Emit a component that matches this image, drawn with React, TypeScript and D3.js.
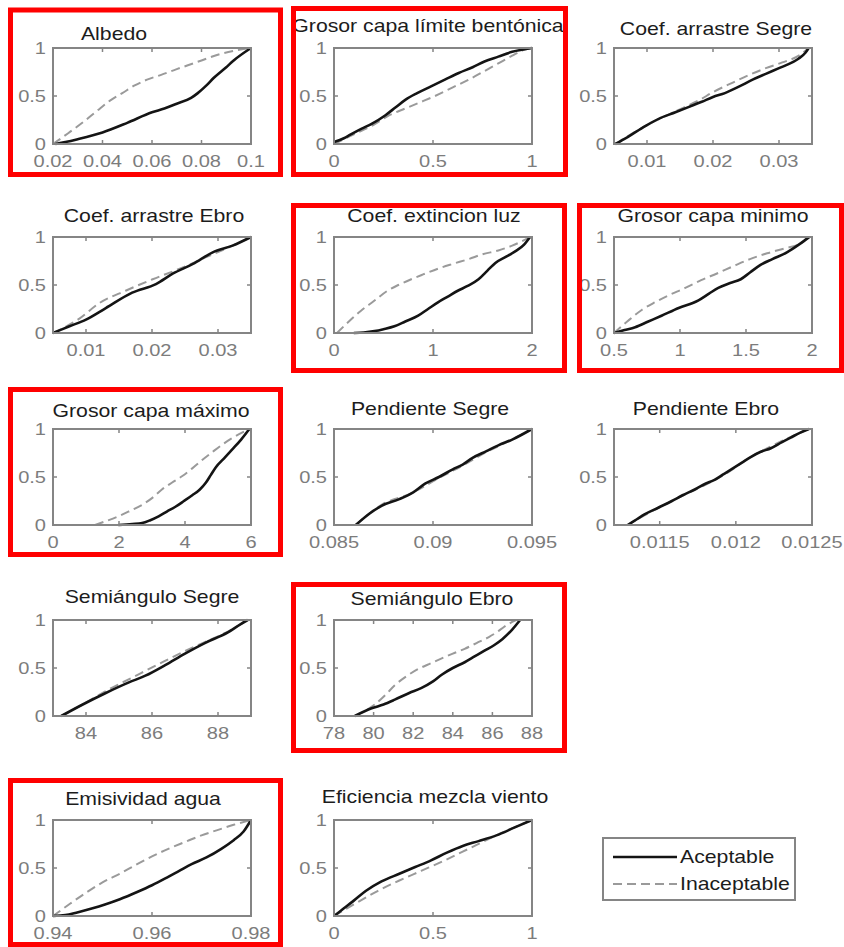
import React from "react";
import * as d3 from "d3";

type Pt = [number, number];

// ---------- DATA ----------
const titles = [
  "Albedo",
  "Grosor capa límite bentónica",
  "Coef. arrastre Segre",
  "Coef. arrastre Ebro",
  "Coef. extincion luz",
  "Grosor capa minimo",
  "Grosor capa máximo",
  "Pendiente Segre",
  "Pendiente Ebro",
  "Semiángulo Segre",
  "Semiángulo Ebro",
  "Emisividad agua",
  "Eficiencia mezcla viento",
];

const xDomains: Pt[] = [
  [0.02, 0.1], [0, 1], [0.005, 0.035], [0.005, 0.035], [0, 2], [0.5, 2], [0, 6],
  [0.085, 0.095], [0.0112, 0.0125], [83, 89], [78, 88], [0.94, 0.98], [0, 1],
];

const xTicks: number[][] = [
  [0.02, 0.04, 0.06, 0.08, 0.1], [0, 0.5, 1], [0.01, 0.02, 0.03], [0.01, 0.02, 0.03],
  [0, 1, 2], [0.5, 1, 1.5, 2], [0, 2, 4, 6], [0.085, 0.09, 0.095], [0.0115, 0.012, 0.0125],
  [84, 86, 88], [78, 80, 82, 84, 86, 88], [0.94, 0.96, 0.98], [0, 0.5, 1],
];

const yTicks = [0, 0.5, 1];
const legendLabels = ["Aceptable", "Inaceptable"];

const albedoAcc: Pt[] = [[0.021, 0], [0.025, 0.02], [0.03, 0.05], [0.04, 0.12], [0.05, 0.22], [0.06, 0.33], [0.065, 0.37], [0.07, 0.42], [0.0758, 0.48], [0.0785, 0.53], [0.082, 0.61], [0.085, 0.69], [0.09, 0.8], [0.093, 0.87], [0.1, 1]];
const albedoInac: Pt[] = [[0.02, 0], [0.026, 0.11], [0.0328, 0.24], [0.038, 0.35], [0.0435, 0.46], [0.048, 0.53], [0.053, 0.61], [0.058, 0.67], [0.0637, 0.72], [0.07, 0.78], [0.0745, 0.82], [0.08, 0.87], [0.0866, 0.93], [0.093, 0.97], [0.1, 1]];

const bentAcc: Pt[] = [[0, 0.02], [0.05, 0.06], [0.085, 0.1], [0.14, 0.16], [0.19, 0.21], [0.26, 0.3], [0.31, 0.38], [0.36, 0.46], [0.42, 0.53], [0.49, 0.6], [0.56, 0.67], [0.63, 0.74], [0.7, 0.8], [0.76, 0.86], [0.83, 0.91], [0.9, 0.96], [1, 1]];
const bentInac: Pt[] = [[0, 0], [0.1, 0.1], [0.2, 0.2], [0.28, 0.3], [0.36, 0.37], [0.43, 0.43], [0.51, 0.5], [0.6, 0.59], [0.68, 0.67], [0.76, 0.76], [0.83, 0.84], [0.9, 0.92], [0.96, 0.98], [1, 1]];

const coefSegreAcc: Pt[] = [[0.0052, 0], [0.007, 0.07], [0.0098, 0.19], [0.012, 0.27], [0.0143, 0.33], [0.0165, 0.39], [0.0183, 0.44], [0.02, 0.49], [0.0218, 0.53], [0.024, 0.6], [0.026, 0.67], [0.028, 0.73], [0.03, 0.79], [0.032, 0.85], [0.033, 0.89], [0.034, 0.95], [0.0345, 1]];
const coefSegreInac: Pt[] = [[0.0052, 0], [0.0098, 0.19], [0.0143, 0.34], [0.018, 0.46], [0.02, 0.54], [0.023, 0.64], [0.0255, 0.72], [0.028, 0.79], [0.0305, 0.85], [0.033, 0.92], [0.0345, 1]];

const coefEbroAcc: Pt[] = [[0.005, 0], [0.0075, 0.07], [0.01, 0.14], [0.013, 0.26], [0.017, 0.42], [0.0206, 0.51], [0.0232, 0.62], [0.0262, 0.72], [0.0292, 0.84], [0.0322, 0.91], [0.035, 1]];
const coefEbroInac: Pt[] = [[0.005, 0], [0.009, 0.15], [0.012, 0.31], [0.016, 0.44], [0.0201, 0.56], [0.0242, 0.67], [0.0282, 0.79], [0.0322, 0.91], [0.035, 1]];

const extAcc: Pt[] = [[0.2, 0], [0.3, 0.005], [0.41, 0.02], [0.5, 0.04], [0.61, 0.07], [0.72, 0.12], [0.85, 0.18], [0.95, 0.25], [1.05, 0.32], [1.15, 0.38], [1.25, 0.44], [1.35, 0.49], [1.46, 0.56], [1.55, 0.65], [1.63, 0.73], [1.73, 0.79], [1.83, 0.85], [1.92, 0.92], [1.98, 1]];
const extInac: Pt[] = [[0.03, 0], [0.15, 0.12], [0.27, 0.23], [0.4, 0.33], [0.54, 0.44], [0.65, 0.5], [0.78, 0.56], [0.9, 0.61], [1.05, 0.67], [1.2, 0.72], [1.36, 0.77], [1.5, 0.82], [1.66, 0.86], [1.8, 0.91], [1.98, 1]];

const minAcc: Pt[] = [[0.5, 0], [0.58, 0.03], [0.66, 0.06], [0.76, 0.12], [0.86, 0.18], [0.99, 0.26], [1.14, 0.34], [1.22, 0.41], [1.29, 0.47], [1.38, 0.52], [1.46, 0.56], [1.53, 0.63], [1.61, 0.71], [1.7, 0.77], [1.81, 0.84], [1.9, 0.92], [1.96, 0.98], [1.98, 1]];
const minInac: Pt[] = [[0.5, 0], [0.6, 0.12], [0.71, 0.24], [0.81, 0.32], [0.91, 0.39], [1.04, 0.47], [1.16, 0.55], [1.28, 0.62], [1.41, 0.7], [1.53, 0.77], [1.66, 0.83], [1.79, 0.88], [1.91, 0.93], [1.98, 1]];

const maxAcc: Pt[] = [[1.98, 0], [2.4, 0.01], [2.7, 0.02], [2.95, 0.05], [3.2, 0.09], [3.45, 0.14], [3.71, 0.19], [3.97, 0.25], [4.22, 0.31], [4.45, 0.37], [4.63, 0.44], [4.78, 0.52], [4.93, 0.6], [5.2, 0.7], [5.44, 0.79], [5.7, 0.89], [5.95, 1]];
const maxInac: Pt[] = [[1.27, 0], [1.6, 0.04], [1.98, 0.09], [2.35, 0.15], [2.7, 0.21], [3.0, 0.28], [3.3, 0.37], [3.6, 0.44], [3.92, 0.51], [4.22, 0.59], [4.53, 0.68], [4.83, 0.76], [5.14, 0.84], [5.45, 0.91], [5.95, 1]];

const pendSegreAcc: Pt[] = [[0.0861, 0], [0.0868, 0.12], [0.0874, 0.2], [0.0883, 0.27], [0.089, 0.34], [0.0896, 0.43], [0.0903, 0.5], [0.091, 0.58], [0.0915, 0.63], [0.092, 0.7], [0.0927, 0.77], [0.0933, 0.83], [0.094, 0.89], [0.095, 1]];
const pendSegreInac: Pt[] = [[0.0861, 0], [0.0874, 0.21], [0.0889, 0.33], [0.0903, 0.49], [0.0915, 0.62], [0.0927, 0.76], [0.094, 0.89], [0.095, 1]];

const pendEbroAcc: Pt[] = [[0.01129, 0], [0.01135, 0.06], [0.0114, 0.11], [0.01149, 0.18], [0.01158, 0.25], [0.01165, 0.31], [0.01173, 0.37], [0.0118, 0.43], [0.01186, 0.47], [0.01192, 0.53], [0.01197, 0.58], [0.01204, 0.65], [0.0121, 0.71], [0.01216, 0.76], [0.01223, 0.8], [0.0123, 0.86], [0.01236, 0.91], [0.01242, 0.96], [0.01248, 1]];
const pendEbroInac: Pt[] = [[0.01129, 0], [0.0114, 0.1], [0.01158, 0.25], [0.01175, 0.38], [0.01192, 0.52], [0.0121, 0.71], [0.01223, 0.82], [0.01248, 1]];

const semSegreAcc: Pt[] = [[83.25, 0], [83.9, 0.12], [84.6, 0.24], [85.3, 0.35], [85.8, 0.42], [86.4, 0.53], [87.0, 0.65], [87.6, 0.76], [88.3, 0.87], [88.7, 0.96], [88.9, 1]];
const semSegreInac: Pt[] = [[83.25, 0], [83.9, 0.12], [84.6, 0.26], [85.4, 0.4], [86.2, 0.54], [86.9, 0.66], [87.6, 0.77], [88.3, 0.88], [88.9, 1]];

const semEbroAcc: Pt[] = [[79.05, 0], [79.9, 0.08], [80.5, 0.12], [81.07, 0.17], [81.8, 0.24], [82.4, 0.29], [83.0, 0.36], [83.44, 0.43], [84.0, 0.5], [84.6, 0.56], [85.1, 0.62], [85.6, 0.68], [86.1, 0.74], [86.5, 0.8], [87.0, 0.9], [87.4, 1]];
const semEbroInac: Pt[] = [[79.05, 0], [80.06, 0.12], [80.6, 0.22], [81.07, 0.32], [81.7, 0.42], [82.26, 0.49], [82.9, 0.55], [83.44, 0.6], [84.0, 0.65], [84.6, 0.7], [85.2, 0.76], [85.8, 0.82], [86.2, 0.87], [86.6, 0.93], [87.0, 0.98], [87.2, 1]];

const emisAcc: Pt[] = [[0.94, 0], [0.9425, 0.01], [0.9447, 0.035], [0.948, 0.08], [0.9505, 0.12], [0.9535, 0.175], [0.957, 0.25], [0.96, 0.32], [0.963, 0.4], [0.9655, 0.47], [0.968, 0.54], [0.971, 0.61], [0.974, 0.7], [0.9765, 0.79], [0.9785, 0.88], [0.98, 1]];
const emisInac: Pt[] = [[0.94, 0], [0.9435, 0.13], [0.9469, 0.25], [0.95, 0.35], [0.9535, 0.44], [0.957, 0.54], [0.96, 0.62], [0.9633, 0.7], [0.9666, 0.77], [0.97, 0.84], [0.9732, 0.895], [0.9765, 0.95], [0.98, 1]];

const eficAcc: Pt[] = [[0, 0], [0.05, 0.08], [0.1, 0.16], [0.16, 0.26], [0.24, 0.36], [0.33, 0.44], [0.41, 0.51], [0.49, 0.58], [0.57, 0.66], [0.65, 0.73], [0.73, 0.78], [0.82, 0.84], [0.91, 0.92], [1, 1]];
const eficInac: Pt[] = [[0, 0], [0.1, 0.12], [0.22, 0.26], [0.33, 0.37], [0.44, 0.47], [0.55, 0.57], [0.65, 0.67], [0.75, 0.77], [0.84, 0.86], [0.92, 0.93], [1, 1]];

const accSeries = [albedoAcc, bentAcc, coefSegreAcc, coefEbroAcc, extAcc, minAcc, maxAcc, pendSegreAcc, pendEbroAcc, semSegreAcc, semEbroAcc, emisAcc, eficAcc];
const inacSeries = [albedoInac, bentInac, coefSegreInac, coefEbroInac, extInac, minInac, maxInac, pendSegreInac, pendEbroInac, semSegreInac, semEbroInac, emisInac, eficInac];

// ---------- LAYOUT ----------
const W = 844;
const H = 947;
const colLeft = [53, 334, 614];
const rowTop = [48, 237, 429, 620, 820];
const panelCol = [0, 1, 2, 0, 1, 2, 0, 1, 2, 0, 1, 0, 1];
const panelRow = [0, 0, 0, 1, 1, 1, 2, 2, 2, 3, 3, 4, 4];
const plotW = 198;
const plotH = 96;
const titlePos: Pt[] = [
  [114, 40], [428, 32], [716, 35],
  [154, 222], [434, 222], [713, 222],
  [151, 417], [430, 415], [706, 415],
  [152, 603], [432, 605],
  [143, 805], [435, 803],
];
const redBoxes = [
  [10.5, 10, 280.5, 174.5],
  [293.5, 8.5, 565.5, 174.5],
  [293.5, 205.5, 564.5, 370.5],
  [579.5, 205.5, 841.5, 370.5],
  [10.5, 389.5, 280.5, 554.5],
  [293.5, 584.5, 564.5, 750.5],
  [10.5, 780.5, 280.5, 944.5],
];

const SX = 1.18;
const FONT = "'Liberation Sans', Arial, Helvetica, sans-serif";
const AXIS = "#858585";
const LABEL = "#7c7c7c";

function T({ x, y, anchor, size, fill, children }: any) {
  return (
    <text
      transform={`translate(${x},${y}) scale(${SX},1)`}
      textAnchor={anchor}
      fontSize={size}
      fill={fill}
      fontFamily={FONT}
    >
      {children}
    </text>
  );
}

function Panel({ i }: { i: number }) {
  const left = colLeft[panelCol[i]];
  const top = rowTop[panelRow[i]];
  const x = d3.scaleLinear().domain(xDomains[i]).range([left, left + plotW]);
  const y = d3.scaleLinear().domain([0, 1]).range([top + plotH, top]);
  const line = d3
    .line<Pt>()
    .x((d) => x(d[0]))
    .y((d) => y(d[1]))
    .curve(d3.curveMonotoneX);
  const bottom = top + plotH;
  return (
    <g>
      <T x={titlePos[i][0]} y={titlePos[i][1]} anchor="middle" size={18} fill="#1c1c1c">
        {titles[i]}
      </T>
      <path d={line(inacSeries[i]) || ""} fill="none" stroke="#9a9a9a" strokeWidth={2} strokeDasharray="9,5" />
      <path d={line(accSeries[i]) || ""} fill="none" stroke="#141414" strokeWidth={2.6} strokeLinejoin="round" />
      <rect x={left} y={top} width={plotW} height={plotH} fill="none" stroke={AXIS} strokeWidth={2} />
      {xTicks[i].map((t) => (
        <g key={"x" + t}>
          <line x1={x(t)} x2={x(t)} y1={bottom} y2={bottom - 4} stroke={AXIS} strokeWidth={1.5} />
          <line x1={x(t)} x2={x(t)} y1={top} y2={top + 4} stroke={AXIS} strokeWidth={1.5} />
          <T x={x(t)} y={bottom + 23} anchor="middle" size={17} fill={LABEL}>
            {String(t)}
          </T>
        </g>
      ))}
      {yTicks.map((t) => (
        <g key={"y" + t}>
          <line x1={left} x2={left + 4} y1={y(t)} y2={y(t)} stroke={AXIS} strokeWidth={1.5} />
          <line x1={left + plotW} x2={left + plotW - 4} y1={y(t)} y2={y(t)} stroke={AXIS} strokeWidth={1.5} />
          <T x={left - 7} y={y(t) + 6} anchor="end" size={17} fill={LABEL}>
            {String(t)}
          </T>
        </g>
      ))}
    </g>
  );
}

export default function App() {
  return (
    <svg
      width={W}
      height={H}
      style={{ position: "absolute", left: 0, top: 0, display: "block", background: "#fff" }}
    >
      <rect width={W} height={H} fill="#fff" />
      {titles.map((_, i) => (
        <Panel key={i} i={i} />
      ))}
      <g>
        <rect x={603} y={838} width={192} height={62} fill="#fff" stroke={AXIS} strokeWidth={2} />
        <line x1={613} x2={677} y1={857} y2={857} stroke="#141414" strokeWidth={2.6} />
        <line x1={613} x2={677} y1={884} y2={884} stroke="#9a9a9a" strokeWidth={2} strokeDasharray="9,5" />
        <T x={680} y={863} anchor="start" size={18} fill="#1c1c1c">{legendLabels[0]}</T>
        <T x={680} y={890} anchor="start" size={18} fill="#1c1c1c">{legendLabels[1]}</T>
      </g>
      {redBoxes.map((b, k) => (
        <rect key={k} x={b[0]} y={b[1]} width={b[2] - b[0]} height={b[3] - b[1]} fill="none" stroke="#ff0000" strokeWidth={5} />
      ))}
    </svg>
  );
}
